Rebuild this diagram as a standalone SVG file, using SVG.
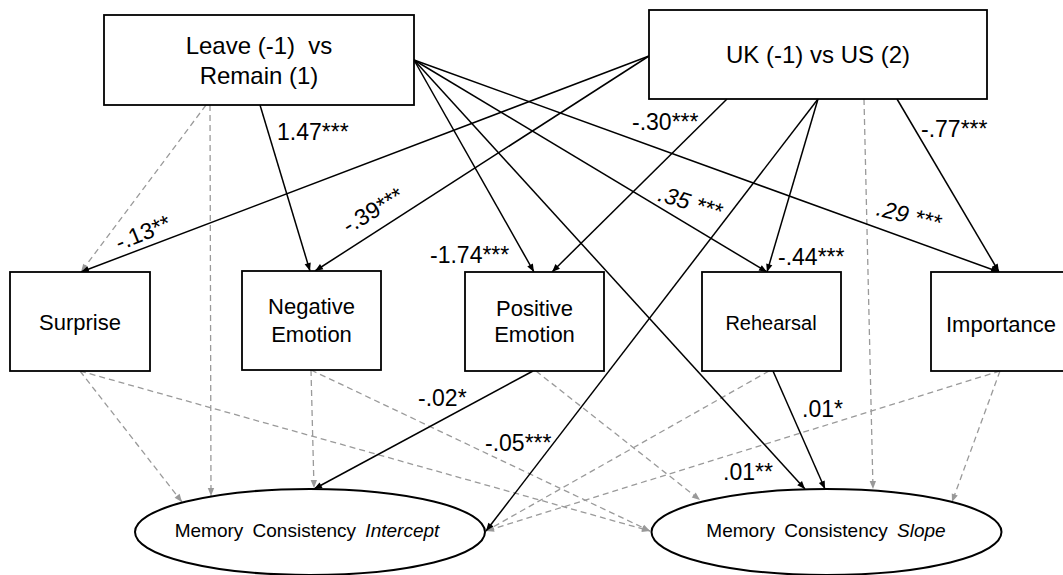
<svg xmlns="http://www.w3.org/2000/svg" width="1063" height="575" viewBox="0 0 1063 575">
<style>
.box{fill:#fff;stroke:#000;stroke-width:1.8}
.ell{fill:#fff;stroke:#000;stroke-width:2}
.t{font-family:"Liberation Sans",Arial,sans-serif;fill:#000;text-anchor:middle}
.big{font-size:24px}
.mid{font-size:22px}
.sm{font-size:19px;word-spacing:4px}
.lab{font-family:"Liberation Sans",Arial,sans-serif;font-size:23px;fill:#000}
.s{stroke:#000;stroke-width:1.5;fill:none;marker-end:url(#ab)}
.d{stroke:#9a9a9a;stroke-width:1.3;fill:none;stroke-dasharray:6 4;marker-end:url(#ag)}
</style>
<defs>
<marker id="ab" viewBox="0 0 10 10" refX="10" refY="5" markerWidth="9" markerHeight="8" markerUnits="userSpaceOnUse" orient="auto"><path d="M0,1 L10,5 L0,9 z" fill="#000"/></marker>
<marker id="ag" viewBox="0 0 10 10" refX="10" refY="5" markerWidth="9" markerHeight="8" markerUnits="userSpaceOnUse" orient="auto"><path d="M0,1 L10,5 L0,9 z" fill="#999"/></marker>
</defs>
<rect width="1063" height="575" fill="#fff"/>

<g id="connectors">
<line class="d" x1="206" y1="105" x2="81" y2="272"/>
<line class="d" x1="210" y1="105" x2="211" y2="496"/>
<line class="d" x1="864" y1="99" x2="873" y2="489"/>
<line class="d" x1="80" y1="371" x2="182" y2="502"/>
<line class="d" x1="80" y1="371" x2="650" y2="531"/>
<line class="d" x1="311" y1="370" x2="314" y2="488"/>
<line class="d" x1="311" y1="370" x2="650" y2="531"/>
<line class="d" x1="536" y1="371" x2="700" y2="500"/>
<line class="d" x1="769" y1="371" x2="486" y2="531"/>
<line class="d" x1="1000" y1="371" x2="486" y2="531"/>
<line class="d" x1="1000" y1="371" x2="952" y2="502"/>
<line class="s" x1="260" y1="105" x2="310" y2="271"/>
<line class="s" x1="414" y1="60" x2="534" y2="272"/>
<line class="s" x1="414" y1="60" x2="805" y2="489"/>
<line class="s" x1="414" y1="60" x2="767" y2="272"/>
<line class="s" x1="414" y1="60" x2="999" y2="272"/>
<line class="s" x1="649" y1="56" x2="81" y2="272"/>
<line class="s" x1="649" y1="56" x2="315" y2="271"/>
<line class="s" x1="727" y1="99" x2="552" y2="272"/>
<line class="s" x1="818" y1="99" x2="767" y2="272"/>
<line class="s" x1="818" y1="99" x2="486" y2="531"/>
<line class="s" x1="897" y1="99" x2="999" y2="272"/>
<line class="s" x1="533" y1="371" x2="314" y2="489"/>
<line class="s" x1="773" y1="371" x2="825" y2="489"/>
</g>

<g id="labels">
<text class="lab" x="277" y="140">1.47***</text>
<text class="lab" x="430" y="263">-1.74***</text>
<text class="lab" x="632" y="130">-.30***</text>
<text class="lab" x="778" y="265">-.44***</text>
<text class="lab" x="921" y="137">-.77***</text>
<text class="lab" x="418" y="406">-.02*</text>
<text class="lab" x="485" y="451">-.05***</text>
<text class="lab" x="802" y="417">.01*</text>
<text class="lab" x="723" y="480">.01**</text>
<text class="lab" text-anchor="middle" transform="translate(146,240) rotate(-22)">-.13**</text>
<text class="lab" text-anchor="middle" transform="translate(377,217) rotate(-31)">-.39***</text>
<text class="lab" text-anchor="middle" font-style="italic" transform="translate(688,210) rotate(17)">.35 ***</text>
<text class="lab" text-anchor="middle" font-style="italic" transform="translate(907,223) rotate(14)">.29 ***</text>
</g>

<g id="leave">
<rect class="box" x="104" y="15" width="310" height="90"/>
<text class="t big" x="259" y="54">Leave (-1)&#160; vs</text>
<text class="t big" x="259" y="84">Remain (1)</text>
</g>
<g id="uk">
<rect class="box" x="649" y="10" width="338" height="89"/>
<text class="t big" x="818" y="63">UK (-1) vs US (2)</text>
</g>
<g id="surprise">
<rect class="box" x="10" y="272" width="140" height="99"/>
<text class="t mid" x="80" y="330">Surprise</text>
</g>
<g id="negative">
<rect class="box" x="242" y="271" width="139" height="99"/>
<text class="t mid" x="311.5" y="314">Negative</text>
<text class="t mid" x="311.5" y="342">Emotion</text>
</g>
<g id="positive">
<rect class="box" x="465" y="272" width="139" height="99"/>
<text class="t mid" x="534.5" y="316">Positive</text>
<text class="t mid" x="534.5" y="342">Emotion</text>
</g>
<g id="rehearsal">
<rect class="box" x="702" y="272" width="139" height="99"/>
<text class="t" font-size="20" x="771" y="330">Rehearsal</text>
</g>
<g id="importance">
<rect class="box" x="931" y="272" width="140" height="99"/>
<text class="t mid" x="1001" y="332">Importance</text>
</g>
<g id="intercept">
<ellipse class="ell" cx="310" cy="532" rx="175" ry="43"/>
<text class="t sm" x="307" y="537">Memory Consistency <tspan font-style="italic">Intercept</tspan></text>
</g>
<g id="slope">
<ellipse class="ell" cx="826.5" cy="532" rx="175" ry="43"/>
<text class="t sm" x="826" y="537">Memory Consistency <tspan font-style="italic">Slope</tspan></text>
</g>
</svg>
